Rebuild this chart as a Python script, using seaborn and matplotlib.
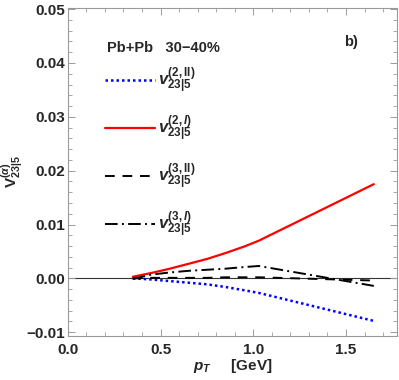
import numpy as np
import pandas as pd
import matplotlib
matplotlib.use("Agg")
import matplotlib.pyplot as plt
import seaborn as sns

# --- data ---
pt = [0.35, 0.45, 0.55, 0.65, 0.75, 0.85, 0.95, 1.03, 1.65]
v_2II = [0.0000, -0.0002, -0.0005, -0.0008, -0.0011, -0.0016, -0.0022, -0.0027, -0.0079]
v_2I = [0.0003, 0.0010, 0.0018, 0.0027, 0.0036, 0.0047, 0.0059, 0.0070, 0.0175]
v_3II = [0.0000, 0.0001, 0.0001, 0.0001, 0.0001, 0.0002, 0.0002, 0.0002, -0.0004]
v_3I = [-0.0001, 0.0007, 0.0011, 0.0014, 0.0016, 0.0018, 0.0021, 0.0023, -0.0014]

labels = [r"$v^{(2,\mathrm{II})}_{23|5}$", r"$v^{(2,I)}_{23|5}$",
          r"$v^{(3,\mathrm{II})}_{23|5}$", r"$v^{(3,I)}_{23|5}$"]
x_ticks = [0.0, 0.5, 1.0, 1.5]
y_ticks = [-0.01, 0.0, 0.01, 0.02, 0.03, 0.04, 0.05]

# --- style ---
sns.set_style("ticks")
plt.rcParams["font.family"] = ["Liberation Sans", "DejaVu Sans"]
plt.rcParams["font.weight"] = "bold"
plt.rcParams["mathtext.fontset"] = "custom"
plt.rcParams["mathtext.rm"] = "Liberation Sans:bold"
plt.rcParams["mathtext.it"] = "Liberation Sans:bold:italic"
plt.rcParams["mathtext.bf"] = "Liberation Sans:bold"

fig = plt.figure(figsize=(3.99, 3.80), dpi=100)
ax = fig.add_axes([0.170, 0.1158, 0.825, 0.863])

series = [
    (v_2II, "blue", (0, (1, 1.2)), 1.8),
    (v_2I, "red", "-", 1.6),
    (v_3II, "black", (0, (5, 4)), 1.4),
    (v_3I, "black", (0, (6.5, 2.2, 1, 2.2)), 1.4),
]
for (vals, col, ls, lw), lab in zip(series, labels):
    df = pd.DataFrame({"pT": pt, "v": vals})
    sns.lineplot(data=df, x="pT", y="v", color=col, linestyle=ls, lw=lw,
                 label=lab, ax=ax)

ax.axhline(0, color="#333333", lw=0.8, zorder=0)

ax.set_xlim(0, 1.775)
ax.set_ylim(-0.0107, 0.0502)
ax.set_xticks(x_ticks)
ax.set_xticklabels([f"{t:.1f}" for t in x_ticks])
ax.set_yticks(y_ticks)
ax.set_yticklabels([f"{t:.2f}".replace("-", "\u2212") for t in y_ticks])
ax.set_xticks(np.arange(0, 1.8, 0.1), minor=True)
ax.set_yticks(np.arange(-0.01, 0.0501, 0.002), minor=True)
ax.tick_params(which="both", direction="in", top=True, right=True,
               color="#9a9a9a", labelsize=11)
ax.tick_params(axis="x", pad=5)
ax.tick_params(axis="y", pad=2)
ax.tick_params(which="major", length=5, width=0.7)
ax.tick_params(which="minor", length=3, width=0.6)
for s in ax.spines.values():
    s.set_color("#9a9a9a")
    s.set_linewidth(0.8)

ax.set_xlabel(r"$p_T$     [GeV]", fontsize=11, fontweight="bold", labelpad=0)
ax.set_ylabel(r"$\mathrm{V}^{(\alpha)}_{23|5}$", fontsize=11, labelpad=1)

ax.text(0.118, 0.877, "Pb+Pb   30\u221240%", transform=ax.transAxes,
        fontsize=10.5, fontweight="bold", va="center")
ax.text(0.839, 0.896, "b)", transform=ax.transAxes,
        fontsize=10.5, fontweight="bold", va="center")

leg = ax.legend(loc="upper left", bbox_to_anchor=(0.068, 0.868), frameon=False,
                handlelength=3.0, handletextpad=0.15, labelspacing=1.06,
                fontsize=12)

fig.savefig("out.png", dpi=100)
